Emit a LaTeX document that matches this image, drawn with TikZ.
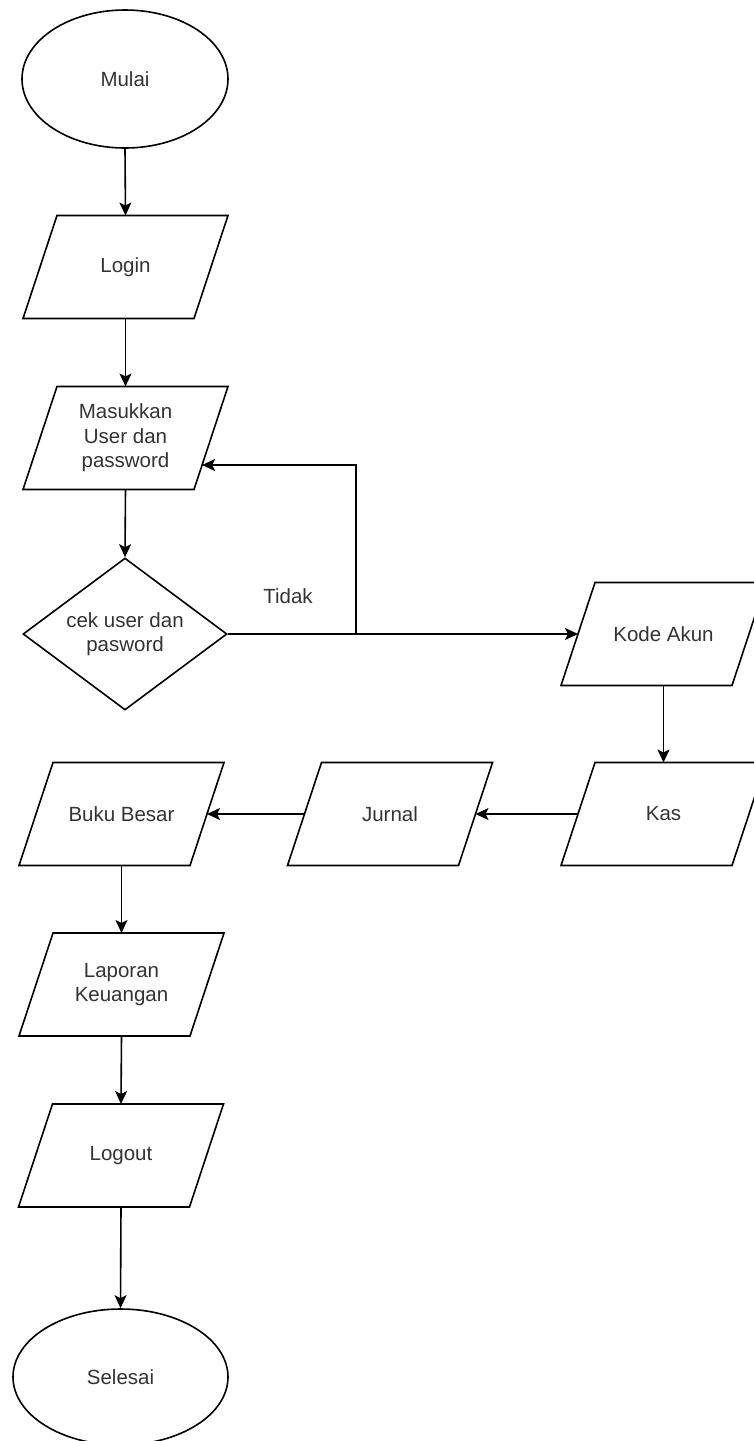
\documentclass[tikz,border=0pt]{standalone}
\usepackage{fontspec}
\setmainfont{Liberation Sans}
\usetikzlibrary{shapes.geometric,arrows.meta}
\definecolor{txt}{HTML}{333333}
\tikzset{
  base/.style={draw=black, line width=1.6pt, text=txt, font=\fontsize{20.5}{24.6}\selectfont, align=center, inner sep=0pt},
  term/.style={base, ellipse, minimum width=206pt, minimum height=138pt},
  io/.style={base, draw=none, rectangle, outer sep=0pt, minimum width=205pt, minimum height=103pt},
  para/.style={draw=black, line width=1.6pt, line join=miter},
  dec/.style={base, diamond, aspect=1.34, minimum width=204pt, minimum height=152pt},
  conn/.style={draw=black, line width=1.6pt, -{Stealth[length=13pt,width=12pt,inset=3pt]}},
  lbl/.style={text=txt, font=\fontsize{20.5}{24.6}\selectfont}
}
\begin{document}
\begin{tikzpicture}[x=1pt,y=-1pt]
\useasboundingbox (0,0) rectangle (754,1441);
\clip (0,0) rectangle (754,1441);
\node[term] (mulai) at (125,79) {Mulai};
\node[io] (login) at (125.5,267) {Login};
\node[io] (masuk) at (125.5,438) {Masukkan\\User dan\\password};
\node[dec] (cek) at (125,634) {cek user dan\\pasword};
\node[io] (kode) at (663.5,634) {Kode Akun};
\node[io] (kas) at (663.5,814) {Kas};
\node[io] (jurnal) at (390,814) {Jurnal};
\node[io] (buku) at (121.5,814) {Buku Besar};
\node[io] (lap) at (121.5,984.5) {Laporan\\Keuangan};
\node[io] (logout) at (121,1155.5) {Logout};
\node[term, minimum width=215pt, minimum height=136pt] (selesai) at (120.5,1377) {Selesai};
\node[lbl] (tidak) at (288,596) {Tidak};

\foreach \n in {login,masuk,kode,kas,jurnal,buku,lap,logout}{
  \draw[para] ([xshift=34pt]\n.north west) -- (\n.north east) -- ([xshift=-34pt]\n.south east) -- (\n.south west) -- cycle;
}

\coordinate (loop) at (356,634);
\coordinate (masukR) at ([xshift=-25.9pt,yshift=-27pt]masuk.east);
\coordinate (kodeL) at ([xshift=17pt]kode.west);
\coordinate (kasL) at ([xshift=17pt]kas.west);
\coordinate (jurnalR) at ([xshift=-17pt]jurnal.east);
\coordinate (jurnalL) at ([xshift=17pt]jurnal.west);
\coordinate (bukuR) at ([xshift=-17pt]buku.east);

\draw[conn] (mulai.south) -- (login.north);
\draw[conn] (login.south) -- (masuk.north);
\draw[conn] (masuk.south) -- (cek.north);
\draw[conn] (cek.east) -- (kodeL);
\draw[conn] (cek.east) -- (loop) |- (masukR);
\draw[conn] (kode.south) -- (kas.north);
\draw[conn] (kasL) -- (jurnalR);
\draw[conn] (jurnalL) -- (bukuR);
\draw[conn] (buku.south) -- (lap.north);
\draw[conn] (lap.south) -- (logout.north);
\draw[conn] (logout.south) -- (selesai.north);
\end{tikzpicture}
\end{document}
